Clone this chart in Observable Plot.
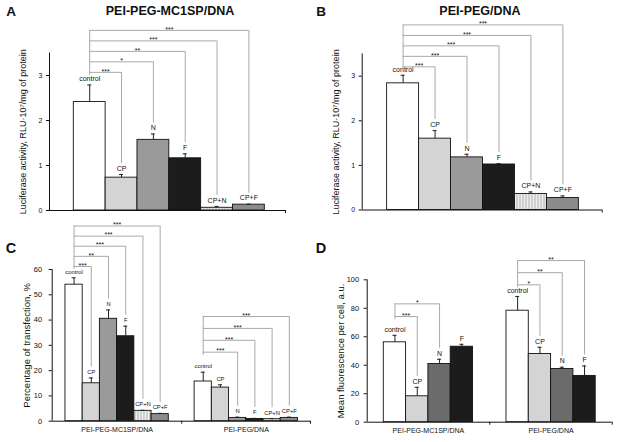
<!DOCTYPE html>
<html><head><meta charset="utf-8">
<script src="https://cdn.jsdelivr.net/npm/d3@7"></script>
<script src="https://cdn.jsdelivr.net/npm/@observablehq/plot@0.6"></script>
<style>
body{margin:0;background:#fff;}
#root{position:relative;width:618px;height:442px;overflow:hidden;font-family:Arial,"Liberation Sans",Helvetica,sans-serif;color:#111;}
.panel{position:absolute;}
.lbl{position:absolute;transform:translate(-50%,-50%);white-space:nowrap;line-height:1;font-weight:bold;}
</style></head>
<body><div id="root"></div>
<script>
// ---------- data ----------
const treatments = ["control", "CP", "N", "F", "CP+N", "CP+F"];
const treatmentsD = ["control", "CP", "N", "F"];
const groupNames = ["PEI-PEG-MC1SP/DNA", "PEI-PEG/DNA"];

// Panel A / B: luciferase activity (RLU·10^7/mg protein), mean and upper error
const lucMC1SP = [2.41, 0.73, 1.57, 1.16, 0.06, 0.13];
const lucMC1SPErr = [0.38, 0.07, 0.13, 0.10, 0.03, 0.01];
const lucPEG = [2.84, 1.60, 1.18, 1.02, 0.36, 0.27];
const lucPEGErr = [0.18, 0.18, 0.07, 0.02, 0.045, 0.045];

// Panel C: percentage of transfection
const transMC1SP = [54.0, 15.0, 40.5, 33.6, 4.1, 2.8];
const transMC1SPErr = [2.7, 2.1, 3.5, 4.0, 0.2, 0.3];
const transPEG = [15.7, 13.3, 1.3, 0.9, 0.8, 1.3];
const transPEGErr = [3.7, 1.1, 0.3, 0.2, 0.2, 0.3];

// Panel D: mean fluorescence per cell
const fluoMC1SP = [56.1, 18.2, 40.9, 53.0];
const fluoMC1SPErr = [4.9, 6.3, 3.3, 1.7];
const fluoPEG = [78.3, 47.9, 37.4, 32.5];
const fluoPEGErr = [10.0, 4.7, 1.2, 7.0];

// significance vs control: [treatment, stars]
const sigA = [["CP", "***"], ["N", "*"], ["F", "**"], ["CP+N", "***"], ["CP+F", "***"]];
const sigB = [["CP", "***"], ["N", "***"], ["F", "***"], ["CP+N", "***"], ["CP+F", "***"]];
const sigC1 = [["CP", "***"], ["N", "**"], ["F", "***"], ["CP+N", "***"], ["CP+F", "***"]];
const sigC2 = [["N", "***"], ["F", "***"], ["CP+N", "***"], ["CP+F", "***"]];
const sigD1 = [["CP", "***"], ["N", "*"]];
const sigD2 = [["CP", "*"], ["N", "**"], ["F", "**"]];

const ticksLuc = [0, 1, 2, 3];
const ticksTrans = [0, 10, 20, 30, 40, 50, 60];
const ticksFluo = [0, 20, 40, 60, 80, 100];

// ---------- rendering ----------
const FONT = "Arial, 'Liberation Sans', Helvetica, sans-serif";
const root = document.getElementById("root");
const BRK = "#a9a9a9";

function addPattern(svg, id) {
  const ns = "http://www.w3.org/2000/svg";
  const defs = document.createElementNS(ns, "defs");
  defs.innerHTML = `<pattern id="${id}" width="3" height="4" patternUnits="userSpaceOnUse"><rect width="3" height="4" fill="#cfcfcf"/><line x1="1.5" y1="0" x2="1.5" y2="4" stroke="#efefef" stroke-width="1"/></pattern>`;
  svg.insertBefore(defs, svg.firstChild);
}

function makePanel(cfg) {
  const rows = [];
  cfg.groups.forEach((g, gi) => {
    g.values.forEach((v, i) => {
      const x1 = gi * cfg.spacing + i;
      rows.push({group: gi, name: cfg.names[i], x1, x2: x1 + 1, xc: x1 + 0.5, v, top: v + g.errs[i], fill: cfg.fills[i]});
    });
  });
  const brackets = [], ctrlLines = [], groupLabels = [];
  cfg.groups.forEach((g, gi) => {
    const gRows = rows.filter(r => r.group === gi);
    const ctrl = gRows[0];
    g.sigs.forEach(([target, stars], k) => {
      const t = gRows.find(r => r.name === target);
      const level = g.base + k * g.step;
      brackets.push({x1: ctrl.xc, x2: t.xc, xm: (ctrl.xc + t.xc) / 2, level, stars, tx: t.xc, ttop: t.top});
    });
    if (g.sigs.length) ctrlLines.push({x: ctrl.xc, y1: g.base + (g.sigs.length - 1) * g.step, y2: g.base});
    if (g.label) groupLabels.push({x: (gRows[0].x1 + gRows[gRows.length - 1].x2) / 2, text: g.label});
  });
  const endTicks = [cfg.xDomain[1], ...(cfg.dividers || [])];

  const svg = Plot.plot({
    width: cfg.width, height: cfg.height,
    marginLeft: cfg.ml, marginRight: cfg.mr, marginTop: cfg.mt, marginBottom: cfg.mb,
    style: {fontFamily: FONT, fontSize: cfg.tickFont + "px", background: "transparent", overflow: "visible", color: "#111"},
    x: {domain: cfg.xDomain, axis: null},
    y: {domain: [0, cfg.yMax], ticks: cfg.yTicks, tickFormat: d => String(d), tickSize: 3, tickPadding: cfg.tickPad, label: null},
    color: {type: "identity"},
    marks: [
      Plot.rect(rows, {x1: "x1", x2: "x2", y1: () => 0, y2: "v", fill: "fill", stroke: "#111", strokeWidth: 0.9}),
      Plot.ruleY([0], {stroke: "#111"}),
      Plot.ruleX([cfg.xDomain[0]], {stroke: "#111"}),
      Plot.ruleX(endTicks, {x: d => d, y1: () => 0, y2: () => 0, insetBottom: -3, stroke: "#111"}),
      Plot.ruleX(rows.filter(r => r.top > r.v), {x: "xc", y1: "v", y2: "top", stroke: "#222"}),
      Plot.ruleY(rows.filter(r => r.top > r.v), {y: "top", x1: "xc", x2: "xc", insetLeft: -2, insetRight: -2, stroke: "#222"}),
      Plot.text(rows, {x: "xc", y: "top", text: "name", dy: -6, fontSize: cfg.barFont, fill: "#111"}),
      Plot.ruleY(brackets, {y: "level", x1: "x1", x2: "x2", stroke: BRK}),
      Plot.ruleX(brackets, {x: "tx", y1: "level", y2: "ttop", insetBottom: 11, stroke: BRK}),
      Plot.ruleX(ctrlLines, {x: "x", y1: "y1", y2: "y2", insetBottom: -3, stroke: BRK}),
      Plot.text(brackets, {x: "xm", y: "level", text: "stars", dy: -1, fontSize: 7, fill: "#111"}),
      Plot.text(groupLabels, {x: "x", text: "text", frameAnchor: "bottom", dy: 11, fontSize: 7, fill: "#111"}),
      Plot.text([cfg.yLabel], {text: d => d, frameAnchor: "left", textAnchor: "middle", lineAnchor: "middle", dx: -cfg.labelOff, rotate: -90, fontSize: cfg.labelFont, fill: "#111"})
    ]
  });
  addPattern(svg, cfg.patId);
  const wrap = document.createElement("div");
  wrap.className = "panel";
  wrap.style.left = cfg.left + "px";
  wrap.style.top = cfg.top + "px";
  wrap.appendChild(svg);
  root.appendChild(wrap);
}

function label(text, x, y, size) {
  const d = document.createElement("div");
  d.className = "lbl";
  d.textContent = text;
  d.style.left = x + "px";
  d.style.top = y + "px";
  d.style.fontSize = size + "px";
  root.appendChild(d);
}

const fills6 = id => ["#ffffff", "#d4d4d4", "#9a9a9a", "#1c1c1c", `url(#${id})`, "#8c8c8c"];

makePanel({
  left: 0, top: 0, width: 305, height: 222, ml: 49, mr: 20, mt: 52.5, mb: 12,
  xDomain: [-0.763, 6.65], spacing: 0, yMax: 3.5, yTicks: ticksLuc, tickFont: 7, tickPad: 4, barFont: 7,
  names: treatments, fills: fills6("cpnA"), patId: "cpnA",
  groups: [{values: lucMC1SP, errs: lucMC1SPErr, sigs: sigA, base: 3.07, step: 0.233}],
  yLabel: "Luciferase activity, RLU·10⁷/mg of protein", labelOff: 26, labelFont: 9
});
makePanel({
  left: 310, top: 0, width: 308, height: 222, ml: 51.7, mr: 16.3, mt: 53.4, mb: 12.5,
  xDomain: [-0.78, 6.73], spacing: 0, yMax: 3.5, yTicks: ticksLuc, tickFont: 7, tickPad: 4, barFont: 7,
  names: treatments, fills: fills6("cpnB"), patId: "cpnB",
  groups: [{values: lucPEG, errs: lucPEGErr, sigs: sigB, base: 3.21, step: 0.235}],
  yLabel: "Luciferase activity, RLU·10⁷/mg of protein", labelOff: 26, labelFont: 9
});
makePanel({
  left: 0, top: 220, width: 312, height: 222, ml: 51.7, mr: 2, mt: 49, mb: 21.3,
  xDomain: [-0.77, 14.23], spacing: 7.5, dividers: [6.75], yMax: 60, yTicks: ticksTrans, tickFont: 7.5, tickPad: 7, barFont: 5.8,
  names: treatments, fills: fills6("cpnC"), patId: "cpnC",
  groups: [
    {values: transMC1SP, errs: transMC1SPErr, sigs: sigC1, base: 61.2, step: 4.0, label: groupNames[0]},
    {values: transPEG, errs: transPEGErr, sigs: sigC2, base: 27.3, step: 4.7, label: groupNames[1]}
  ],
  yLabel: "Percentage of transfection, %", labelOff: 25, labelFont: 9.5
});
makePanel({
  left: 310, top: 220, width: 308, height: 222, ml: 56.7, mr: 6.3, mt: 59.3, mb: 20.3,
  xDomain: [-0.744, 10.24], spacing: 5.5, dividers: [4.75], yMax: 100, yTicks: ticksFluo, tickFont: 7.5, tickPad: 5, barFont: 7,
  names: treatmentsD, fills: ["#ffffff", "#d4d4d4", "#6b6b6b", "#1c1c1c"], patId: "cpnD",
  groups: [
    {values: fluoMC1SP, errs: fluoMC1SPErr, sigs: sigD1, base: 74.2, step: 8.9, label: groupNames[0]},
    {values: fluoPEG, errs: fluoPEGErr, sigs: sigD2, base: 96.5, step: 8.5, label: groupNames[1]}
  ],
  yLabel: "Mean fluorescence per cell, a.u.", labelOff: 26.5, labelFont: 9.5
});

label("A", 11, 11.5, 13.5);
label("B", 321, 11.5, 13.5);
label("C", 11, 248, 14.5);
label("D", 321, 248, 14.5);
label("PEI-PEG-MC1SP/DNA", 170, 11, 12.5);
label("PEI-PEG/DNA", 480, 11, 12.5);
</script>
</body></html>
